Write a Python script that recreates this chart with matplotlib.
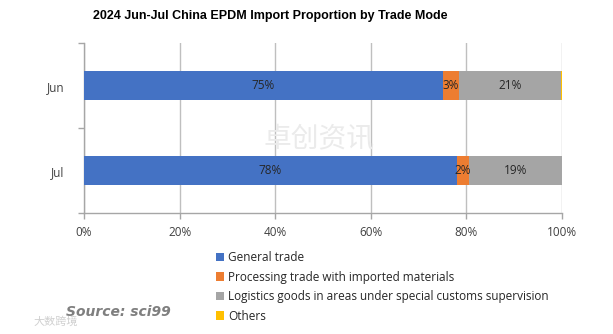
import numpy as np
import matplotlib.pyplot as plt
from matplotlib.ticker import PercentFormatter

# data (percent of import volume)
months = ['Jun', 'Jul']
general = [75.0, 78.0]
processing = [3.4, 2.5]
logistics = [21.4, 19.4]
others = [0.2, 0.1]

names = ['General trade',
         'Processing trade with imported materials',
         'Logistics goods in areas under special customs supervision',
         'Others']
colors = ['#4472C4', '#ED7D31', '#A5A5A5', '#FFC000']
series = [general, processing, logistics, others]
show_label = [True, True, True, False]

plt.rcParams['font.family'] = ['Open Sans', 'Noto Sans CJK SC', 'DejaVu Sans']

fig = plt.figure(figsize=(6.13, 3.34), dpi=100)
ax = fig.add_axes([0.137, 0.362, 0.780, 0.509])

y = np.arange(len(months))
left = np.zeros(len(months))
for vals, name, col, lab in zip(series, names, colors, show_label):
    vals = np.array(vals)
    bars = ax.barh(y, vals, left=left, height=0.34, color=col, label=name, zorder=3)
    if lab:
        for b, v in zip(bars, vals):
            ax.text(b.get_x() + b.get_width() / 2, b.get_y() + b.get_height() / 2,
                    f'{v:.0f}%', ha='center', va='center', fontsize=8.5,
                    color='#262626', zorder=4)
    left += vals

ax.set_xlim(0, 100)
ax.set_ylim(1.5, -0.5)
ax.set_xticks(np.arange(0, 101, 20))
ax.xaxis.set_major_formatter(PercentFormatter(decimals=0))
ax.set_yticks(y)
ax.set_yticklabels(months)
ax.set_yticks([-0.5, 0.5, 1.5], minor=True)
ax.tick_params(axis='y', which='major', length=0, pad=14, labelsize=8.5, labelcolor='#404040')
ax.tick_params(axis='y', which='minor', length=4, color='#A6A6A6', width=1)
ax.tick_params(axis='x', length=4, color='#A6A6A6', width=1, pad=5,
               labelsize=8.5, labelcolor='#404040')
ax.grid(axis='x', color='#BFBFBF', linewidth=1, zorder=0)
for s in ['top', 'right']:
    ax.spines[s].set_visible(False)
for s in ['left', 'bottom']:
    ax.spines[s].set_color('#A6A6A6')
    ax.spines[s].set_linewidth(1)

fig.text(0.441, 0.952, '2024 Jun-Jul China EPDM Import Proportion by Trade Mode',
         ha='center', va='center', fontsize=9, fontweight='bold', color='#000000',
         family='Liberation Sans')

handles, labels = ax.get_legend_handles_labels()
fig.legend(handles, labels, loc='upper left', bbox_to_anchor=(0.345, 0.262),
           frameon=False, fontsize=8.5, handlelength=0.7, handleheight=0.7,
           handletextpad=0.3, labelspacing=0.55, borderaxespad=0, labelcolor='#262626')

# watermarks
fig.text(0.52, 0.58, '卓创资讯', ha='center', va='center', fontsize=20,
         color='#EBEBEB', zorder=0)
fig.text(0.108, 0.065, 'Source: sci99', ha='left', va='center', fontsize=10,
         fontweight='bold', style='italic', color='#7F7F7F', family='DejaVu Sans')
fig.text(0.055, 0.035, '大数跨境', ha='left', va='center', fontsize=8,
         color='#D0D0D0')

fig.savefig('out.png', dpi=100)
